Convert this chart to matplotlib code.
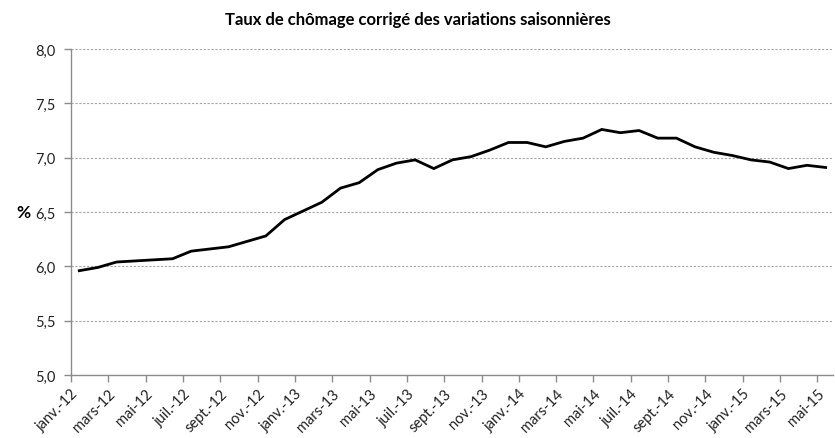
import matplotlib
matplotlib.use("Agg")
import matplotlib.pyplot as plt
import matplotlib.transforms as mtransforms
import numpy as np

plt.rcParams['font.family'] = ['Lato', 'DejaVu Sans']

# monthly unemployment rate, janv. 2012 -> mai 2015
months = ["janv.-12", "févr.-12", "mars-12", "avr.-12", "mai-12", "juin-12",
          "juil.-12", "août-12", "sept.-12", "oct.-12", "nov.-12", "déc.-12",
          "janv.-13", "févr.-13", "mars-13", "avr.-13", "mai-13", "juin-13",
          "juil.-13", "août-13", "sept.-13", "oct.-13", "nov.-13", "déc.-13",
          "janv.-14", "févr.-14", "mars-14", "avr.-14", "mai-14", "juin-14",
          "juil.-14", "août-14", "sept.-14", "oct.-14", "nov.-14", "déc.-14",
          "janv.-15", "févr.-15", "mars-15", "avr.-15", "mai-15"]
rate = [5.96, 5.99, 6.04, 6.05, 6.06, 6.07, 6.14, 6.16, 6.18, 6.23, 6.28,
        6.43, 6.51, 6.59, 6.72, 6.77, 6.89, 6.95, 6.98, 6.90, 6.98, 7.01,
        7.07, 7.14, 7.14, 7.10, 7.15, 7.18, 7.26, 7.23, 7.25, 7.18, 7.18,
        7.10, 7.05, 7.02, 6.98, 6.96, 6.90, 6.93, 6.91]
y_ticks = [5.0, 5.5, 6.0, 6.5, 7.0, 7.5, 8.0]

fig = plt.figure(figsize=(8.35, 4.39), dpi=100)
ax = fig.add_axes([0.085, 0.1435, 0.913, 0.7425])

x = np.arange(len(rate))
ax.plot(x, rate, color='black', lw=2.0, solid_joinstyle='miter', zorder=3)

# ticks sit at the start of each month, points mid-month
shift = -0.444
tick_pos = [i + shift for i in range(0, len(months), 2)]
ax.set_xticks(tick_pos)
ax.set_xticklabels(months[::2], rotation=45, ha='right', va='top',
                   rotation_mode='anchor', fontsize=10.5, color='#222222')
offset = mtransforms.ScaledTranslation(9 / 100, 0, fig.dpi_scale_trans)
for lbl in ax.get_xticklabels():
    lbl.set_transform(lbl.get_transform() + offset)
ax.set_xlim(shift, 40.41)

ax.set_ylim(5.0, 8.0)
ax.set_yticks(y_ticks)
ax.set_yticklabels([f"{v:.1f}".replace('.', ',') for v in y_ticks],
                   fontsize=10.5, color='#222222')
ax.grid(axis='y', color='#a6a6a6', lw=0.8, linestyle=(0, (2, 1.5)))
ax.set_axisbelow(True)

for side in ['top', 'right']:
    ax.spines[side].set_visible(False)
for side in ['left', 'bottom']:
    ax.spines[side].set_color('#8c8c8c')
    ax.spines[side].set_linewidth(1.0)
ax.tick_params(axis='both', colors='#8c8c8c', length=5, width=1.0,
               labelcolor='#222222')
ax.tick_params(axis='y', pad=6)
ax.tick_params(axis='x', pad=3)

ax.set_ylabel('%', rotation=0, fontsize=12.5, fontweight='bold',
              labelpad=4, va='center')
ax.yaxis.set_label_coords(-0.063, 0.5)

fig.suptitle("Taux de chômage corrigé des variations saisonnières",
             x=0.5, y=0.972, fontsize=12, fontweight='bold', va='top')

fig.savefig("out.png", dpi=100)
